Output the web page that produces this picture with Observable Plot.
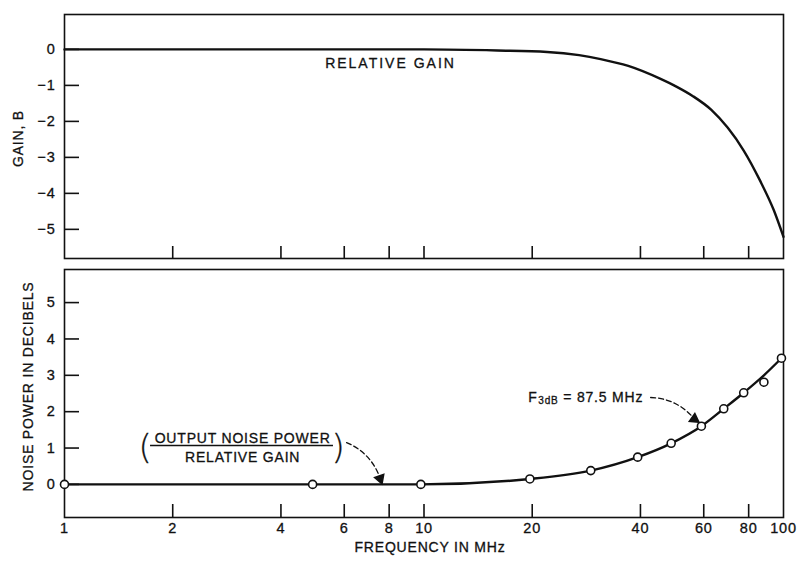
<!DOCTYPE html>
<html><head><meta charset="utf-8">
<script src="https://cdn.jsdelivr.net/npm/d3@7"></script>
<script src="https://cdn.jsdelivr.net/npm/@observablehq/plot@0.6"></script>
<style>
body{margin:0;background:#fff;}
#chart{width:797px;height:562px;}
#chart svg{display:block;}
#chart text{letter-spacing:0.8px;stroke:#111;stroke-width:0.3px;}
</style></head><body><div id="chart"></div>
<script>
// ---- data ----
// Top panel: relative gain curve
const gainFreq = [1, 5, 10, 16, 22, 27, 31, 37, 45.5, 50.5, 56, 63, 70, 77.5, 86, 94, 100];
const gainValue = [0, 0, 0, -0.03, -0.07, -0.16, -0.27, -0.46, -0.82, -1.04, -1.30, -1.68, -2.18, -2.81, -3.64, -4.47, -5.21];
// Bottom panel: measured noise points (circles)
const noiseFreq = [1, 4.9, 9.8, 19.7, 29.1, 39.3, 48.7, 59.1, 68.2, 77.5, 88.2, 98.7];
const noiseValue = [0, 0, 0, 0.15, 0.38, 0.75, 1.13, 1.60, 2.08, 2.52, 2.81, 3.47];
// Bottom panel: smooth curve through the points
const curveFreq = [1, 4.9, 9.8, 19.7, 29.1, 39.3, 48.7, 59.1, 68.2, 77.5, 88.2, 98.7];
const curveValue = [0, 0, 0, 0.15, 0.38, 0.75, 1.13, 1.60, 2.08, 2.52, 3.00, 3.47];
// Ticks
const xTickMarks = [2, 4, 6, 8, 10, 20, 40, 60, 80];
const xTickLabels = [1, 2, 4, 6, 8, 10, 20, 40, 60, 80, 100];
const gainTicks = [0, -1, -2, -3, -4, -5];
const noiseTicks = [0, 1, 2, 3, 4, 5];
// Annotations (data coordinates)
const gainNote = [{x: 8.07, y: -0.39, text: "RELATIVE GAIN"}];
const fracTop = [{x: 3.13, y: 1.27, text: "OUTPUT NOISE POWER"}];
const fracBottom = [{x: 3.13, y: 0.74, text: "RELATIVE GAIN"}];
const fracBar = [{x1: 1.735, x2: 5.6, y: 1.07}];
const fracParens = [{x: 1.68, y: 1.0, text: "("}, {x: 5.78, y: 1.0, text: ")"}];
const f3dbNote = [{x: 19.5, y: 2.39}];
const arrows = [
  {x1: 6.09, y1: 1.15, x2: 7.55, y2: 0.16, rot: 160},
  {x1: 42.7, y1: 2.39, x2: 56.5, y2: 1.80, rot: 125}
];

const gainData = gainFreq.map((f, i) => ({f, v: gainValue[i]}));
const noiseData = noiseFreq.map((f, i) => ({f, v: noiseValue[i]}));
const curveData = curveFreq.map((f, i) => ({f, v: curveValue[i]}));

const FONT = "'Liberation Sans', Arial, Helvetica, sans-serif";
const INK = "#111";
const W = 797;

const topPlot = Plot.plot({
  width: W, height: 262,
  marginLeft: 64, marginRight: 14, marginTop: 14, marginBottom: 4,
  x: {type: "log", domain: [1, 100], label: null},
  y: {domain: [-5.81, 0.97], label: null},
  style: {fontFamily: FONT, fontSize: "14px", color: INK, background: "#fff"},
  marks: [
    Plot.axisY(gainTicks, {anchor: "left", tickSize: 15, dx: 15, text: null, label: null, strokeWidth: 1.6}),
    Plot.axisY(gainTicks, {anchor: "left", tickSize: 0, tickPadding: 9, label: null, fontSize: 14.5}),
    Plot.axisX(xTickMarks, {anchor: "bottom", tickSize: 12, dy: -12, text: null, label: null, strokeWidth: 1.6}),
    Plot.frame({stroke: INK, strokeWidth: 1.6}),
    Plot.line(gainData, {x: "f", y: "v", curve: "monotone-x", stroke: INK, strokeWidth: 2.4}),
    Plot.text(gainNote, {x: "x", y: "y", text: "text", fontSize: 14, fill: INK}),
    Plot.text(["GAIN, B"], {frameAnchor: "left", textAnchor: "middle", rotate: -90, dx: -46, dy: 2, fontSize: 14, fill: INK})
  ]
});

const bottomPlot = Plot.plot({
  width: W, height: 300,
  marginLeft: 64, marginRight: 14, marginTop: 7, marginBottom: 45,
  x: {type: "log", domain: [1, 100], label: null},
  y: {domain: [-0.91, 5.91], label: null},
  style: {fontFamily: FONT, fontSize: "14px", color: INK, background: "#fff", overflow: "visible"},
  marks: [
    Plot.axisY(noiseTicks, {anchor: "left", tickSize: 15, dx: 15, text: null, label: null, strokeWidth: 1.6}),
    Plot.axisY(noiseTicks, {anchor: "left", tickSize: 0, tickPadding: 9, label: null, fontSize: 14.5}),
    Plot.axisX(xTickMarks, {anchor: "bottom", tickSize: 13, dy: -13, text: null, label: null, strokeWidth: 1.6}),
    Plot.text(xTickLabels, {x: d => d, frameAnchor: "bottom", dy: 15, text: d => String(d), fontSize: 14.5, fill: INK}),
    Plot.frame({stroke: INK, strokeWidth: 1.6}),
    Plot.line(curveData, {x: "f", y: "v", curve: "monotone-x", stroke: INK, strokeWidth: 2.4}),
    Plot.dot(noiseData, {x: "f", y: "v", r: 4, fill: "white", stroke: INK, strokeWidth: 1.6}),
    // fraction annotation
    Plot.text(fracTop, {x: "x", y: "y", text: "text", fontSize: 14, fill: INK}),
    Plot.text(fracBottom, {x: "x", y: "y", text: "text", fontSize: 14, fill: INK}),
    Plot.ruleY(fracBar, {x1: "x1", x2: "x2", y: "y", stroke: INK, strokeWidth: 1.3}),
    Plot.text(fracParens, {x: "x", y: "y", text: "text", fontSize: 34, fontFamily: "'DejaVu Sans'", fontWeight: 200, fill: INK}),
    // F3dB label
    Plot.text(f3dbNote, {x: "x", y: "y", text: () => "F", textAnchor: "start", fontSize: 14, fill: INK}),
    Plot.text(f3dbNote, {x: "x", y: "y", text: () => "3dB", textAnchor: "start", dx: 10, dy: 3, fontSize: 10, fill: INK}),
    Plot.text(f3dbNote, {x: "x", y: "y", text: () => "= 87.5 MHz", textAnchor: "start", dx: 35, fontSize: 14, fill: INK}),
    // dashed arrows
    Plot.arrow(arrows, {x1: "x1", y1: "y1", x2: "x2", y2: "y2", bend: 25, headLength: 0, stroke: INK, strokeWidth: 1.3, strokeDasharray: "5,3"}),
    Plot.dot(arrows, {x: "x2", y: "y2", symbol: "triangle", rotate: "rot", r: 3.6, fill: INK, stroke: INK}),
    // axis titles
    Plot.text(["FREQUENCY IN MHz"], {frameAnchor: "bottom", dy: 34, dx: 6, fontSize: 14, fill: INK}),
    Plot.text(["NOISE POWER IN DECIBELS"], {frameAnchor: "left", textAnchor: "middle", rotate: -90, dx: -36, dy: -7, fontSize: 14, fill: INK})
  ]
});

const host = document.getElementById("chart");
host.appendChild(topPlot);
host.appendChild(bottomPlot);
d3.select(topPlot).selectAll("text").filter(function () { return this.textContent === "RELATIVE GAIN"; }).style("letter-spacing", "2px");
</script>
</body></html>
